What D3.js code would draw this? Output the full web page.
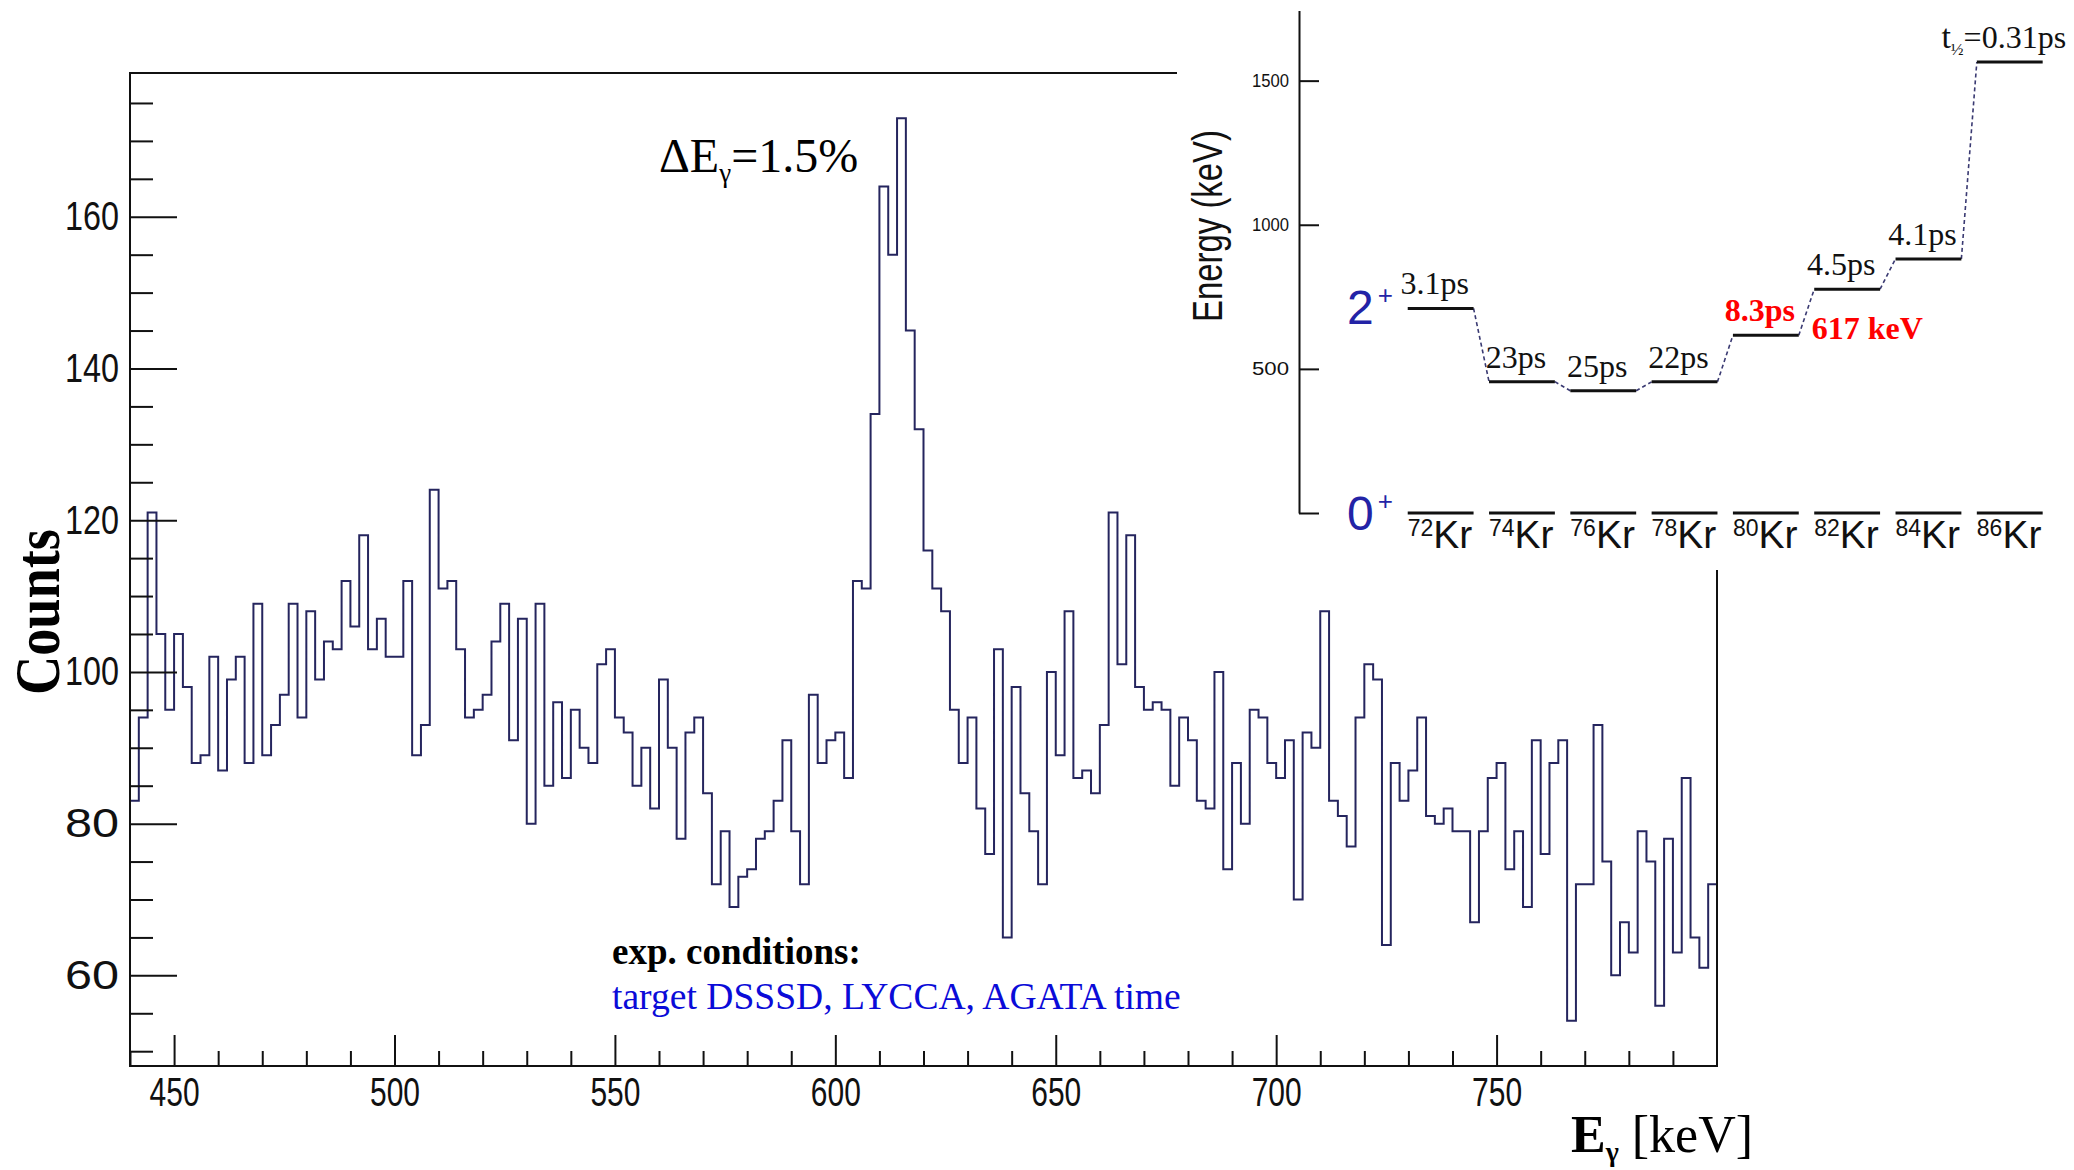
<!DOCTYPE html>
<html>
<head>
<meta charset="utf-8">
<script src="https://cdnjs.cloudflare.com/ajax/libs/d3/7.8.5/d3.min.js"></script>
<style>
  html, body { margin: 0; padding: 0; background: #fff; }
  svg { display: block; }
</style>
</head>
<body>
<script>
// gamma spectrum: counts per 2 keV bin, first bin starts at 440 keV
var binLow = 440;
var binWidth = 2;
var counts = [
   83,  94, 121, 105,  95, 105,  98,  88,  89, 102,
   87,  99, 102,  88, 109,  89,  93,  97, 109,  94,
  108,  99, 104, 103, 112, 106, 118, 103, 107, 102,
  102, 112,  89,  93, 124, 111, 112, 103,  94,  95,
   97, 104, 109,  91, 107,  80, 109,  85,  96,  86,
   95,  90,  88, 101, 103,  94,  92,  85,  90,  82,
   99,  90,  78,  92,  94,  84,  72,  79,  69,  73,
   74,  78,  79,  83,  91,  79,  72,  97,  88,  91,
   92,  86, 112, 111, 134, 164, 155, 173, 145, 132,
  116, 111, 108,  95,  88,  94,  82,  76, 103,  65,
   98,  84,  79,  72, 100,  89, 108,  86,  87,  84,
   93, 121, 101, 118,  98,  95,  96,  95,  85,  94,
   91,  83,  82, 100,  74,  88,  80,  95,  94,  88,
   86,  91,  70,  92,  90, 108,  83,  81,  77,  94,
  101,  99,  64,  88,  83,  87,  94,  81,  80,  82,
   79,  79,  67,  79,  86,  88,  74,  79,  69,  91,
   76,  88,  91,  54,  72,  72,  93,  75,  60,  67,
   63,  79,  75,  56,  78,  63,  86,  65,  61,  72
];
var xTicks = [450, 500, 550, 600, 650, 700, 750];
var yTicks = [60, 80, 100, 120, 140, 160];

// inset: first 2+ state of the even Kr isotopes
var isotopes = ['72', '74', '76', '78', '80', '82', '84', '86'];
var levelEnergy = [709.7, 455.6, 424.0, 455.0, 616.6, 776.5, 881.6, 1564.6];
var halfLife = ['3.1ps', '23ps', '25ps', '22ps', '8.3ps', '4.5ps', '4.1ps', '0.31ps'];
var energyTicks = [0, 500, 1000, 1500];
var highlight = '80';

var SERIF = "'Liberation Serif', 'Times New Roman', serif";
var SANS = "'Liberation Sans', Arial, Helvetica, sans-serif";
var histColor = '#25255e';

var svg = d3.select('body').append('svg').attr('width', 2074).attr('height', 1170);
svg.append('rect').attr('width', 2074).attr('height', 1170).attr('fill', '#fff');

/** main spectrum */
var frame = {left: 130, right: 1717, top: 73, bottom: 1066};
var x = d3.scaleLinear().domain([440, 800]).range([frame.left, frame.right]);
var y = d3.scaleLinear().domain([48.05, 178.95]).range([frame.bottom, frame.top]);

// step outline, one point per bin low edge plus the closing edge
var steps = counts.map(function (c, i) { return {e: binLow + i * binWidth, c: c}; });
steps.push({e: binLow + counts.length * binWidth, c: counts[counts.length - 1]});
var stepLine = d3.line().x(function (d) { return x(d.e); }).y(function (d) { return y(d.c); }).curve(d3.curveStepAfter);
svg.append('path').attr('d', stepLine(steps))
   .attr('fill', 'none').attr('stroke', histColor).attr('stroke-width', 2);

// ROOT style ticks: inside the frame, minor ones shorter
var xMinor = d3.range(440, 800, 10).filter(function (v) { return v % 50 !== 0; });
var yMinor = d3.range(50, 179, 5).filter(function (v) { return yTicks.indexOf(v) < 0; });

var gx = svg.append('g').attr('transform', 'translate(0,' + frame.bottom + ')');
gx.append('g').call(d3.axisBottom(x).tickValues(xMinor).tickSizeInner(-15).tickSizeOuter(0).tickFormat(''));
gx.append('g').call(d3.axisBottom(x).tickValues(xTicks).tickSizeInner(-31).tickSizeOuter(0).tickPadding(12));
var gy = svg.append('g').attr('transform', 'translate(' + frame.left + ',0)');
gy.append('g').call(d3.axisLeft(y).tickValues(yMinor).tickSizeInner(-23).tickSizeOuter(0).tickFormat(''));
gy.append('g').call(d3.axisLeft(y).tickValues(yTicks).tickSizeInner(-47).tickSizeOuter(0).tickPadding(11));
svg.selectAll('.domain').remove();
svg.selectAll('.tick line').attr('stroke', '#111').attr('stroke-width', 2);
gx.selectAll('text').attr('font-family', SANS).attr('font-size', 40).attr('fill', '#111')
  .attr('textLength', 50).attr('lengthAdjust', 'spacingAndGlyphs');
gy.selectAll('text').attr('font-family', SANS).attr('font-size', 40).attr('fill', '#111')
  .attr('textLength', 54).attr('lengthAdjust', 'spacingAndGlyphs');

svg.append('rect').attr('x', frame.left).attr('y', frame.top)
   .attr('width', frame.right - frame.left).attr('height', frame.bottom - frame.top)
   .attr('fill', 'none').attr('stroke', '#111').attr('stroke-width', 2);

// axis titles
svg.append('text').attr('transform', 'translate(59,612) rotate(-90)')
   .attr('text-anchor', 'middle').attr('font-family', SERIF).attr('font-weight', 'bold')
   .attr('font-size', 63).attr('textLength', 166).attr('lengthAdjust', 'spacingAndGlyphs').text('Counts');
var xt = svg.append('text').attr('x', 1571).attr('y', 1152).attr('font-family', SERIF).attr('font-size', 52);
xt.append('tspan').attr('font-weight', 'bold').text('E');
xt.append('tspan').attr('font-weight', 'bold').attr('font-size', 28).attr('dy', 9).text('γ');
xt.append('tspan').attr('dy', -9).text(' [keV]');

// resolution label
var res = svg.append('text').attr('x', 659).attr('y', 172).attr('font-family', SERIF).attr('font-size', 48);
res.append('tspan').text('ΔE');
res.append('tspan').attr('font-size', 27).attr('dy', 10).text('γ');
res.append('tspan').attr('dy', -10).text('=1.5%');

// gating conditions
svg.append('text').attr('x', 612).attr('y', 964).attr('font-family', SERIF).attr('font-weight', 'bold')
   .attr('font-size', 37).text('exp. conditions:');
svg.append('text').attr('x', 612).attr('y', 1009).attr('font-family', SERIF)
   .attr('font-size', 37.6).attr('fill', '#0b0bd8').text('target DSSSD, LYCCA, AGATA time');

/** inset level scheme, drawn on a white patch over the top right corner */
svg.append('rect').attr('x', 1177).attr('y', 0).attr('width', 897).attr('height', 570).attr('fill', '#fff');

var eY = d3.scaleLinear().domain([0, 1743]).range([513, 10.6]);
var isoX = d3.scaleBand().domain(isotopes).range([1400, 2050.4]).paddingInner(0.19).paddingOuter(0.095);

var gE = svg.append('g').attr('transform', 'translate(1299,0)')
  .call(d3.axisLeft(eY).tickValues(energyTicks).tickSizeInner(-20).tickSizeOuter(0).tickPadding(10)
    .tickFormat(function (d) { return d ? d : ''; }));
gE.select('.domain').attr('stroke', '#111').attr('stroke-width', 2);
gE.selectAll('.tick line').attr('stroke', '#111').attr('stroke-width', 2);
gE.selectAll('text').attr('font-family', SANS).attr('font-size', 19).attr('fill', '#111')
  .attr('textLength', 37).attr('lengthAdjust', 'spacingAndGlyphs');

svg.append('text').attr('transform', 'translate(1222,226) rotate(-90)')
   .attr('text-anchor', 'middle').attr('font-family', SANS).attr('font-size', 43)
   .attr('textLength', 192).attr('lengthAdjust', 'spacingAndGlyphs').attr('fill', '#111').text('Energy (keV)');

// spin labels
function spinLabel(digit, yb) {
  var t = svg.append('text').attr('x', 1347).attr('y', yb).attr('font-family', SANS)
    .attr('font-size', 48).attr('fill', '#2323a6');
  t.append('tspan').text(digit);
  t.append('tspan').attr('font-size', 26).attr('dx', 4).attr('dy', -20).text('+');
}
spinLabel('2', 324);
spinLabel('0', 530);

var levels = isotopes.map(function (iso, i) {
  return {iso: iso, e: levelEnergy[i], t: halfLife[i]};
});

// dashed links between neighbouring 2+ levels
svg.append('g').selectAll('line').data(levels.slice(1)).join('line')
   .attr('x1', function (d, i) { return isoX(levels[i].iso) + isoX.bandwidth(); })
   .attr('y1', function (d, i) { return eY(levels[i].e); })
   .attr('x2', function (d) { return isoX(d.iso); })
   .attr('y2', function (d) { return eY(d.e); })
   .attr('stroke', '#3a3a72').attr('stroke-width', 1.6).attr('stroke-dasharray', '4,3');

// 2+ and 0+ levels
svg.append('g').selectAll('line').data(levels).join('line')
   .attr('x1', function (d) { return isoX(d.iso); })
   .attr('x2', function (d) { return isoX(d.iso) + isoX.bandwidth(); })
   .attr('y1', function (d) { return eY(d.e); }).attr('y2', function (d) { return eY(d.e); })
   .attr('stroke', '#111').attr('stroke-width', 3);
svg.append('g').selectAll('line').data(levels).join('line')
   .attr('x1', function (d) { return isoX(d.iso); })
   .attr('x2', function (d) { return isoX(d.iso) + isoX.bandwidth(); })
   .attr('y1', eY(0)).attr('y2', eY(0))
   .attr('stroke', '#111').attr('stroke-width', 3);

// isotope names under the ground states
var names = svg.append('g').selectAll('text').data(levels).join('text')
   .attr('x', function (d) { return isoX(d.iso); }).attr('y', 548)
   .attr('font-family', SANS).attr('fill', '#111');
names.append('tspan').attr('font-size', 23).attr('dy', -12).text(function (d) { return d.iso; });
names.append('tspan').attr('font-size', 39).attr('dy', 12).text('Kr');

// half-lives above each 2+ level
var hl = svg.append('g').selectAll('text').data(levels).join('text')
   .attr('x', function (d) { return isoX(d.iso) + isoX.bandwidth() / 2 - 6; })
   .attr('y', function (d) { return eY(d.e) - 14; })
   .attr('text-anchor', 'middle').attr('font-family', SERIF).attr('font-size', 32)
   .attr('fill', function (d) { return d.iso === highlight ? '#ff0000' : '#111'; })
   .attr('font-weight', function (d) { return d.iso === highlight ? 'bold' : 'normal'; });
hl.filter(function (d, i) { return i === levels.length - 1; }).each(function () {
  var t = d3.select(this);
  t.append('tspan').attr('font-size', 34).text('t');
  t.append('tspan').attr('font-size', 17).attr('dy', 7).text('½');
  t.append('tspan').attr('dy', -7).text('=');
});
hl.append('tspan').text(function (d) { return d.t; });

// energy of the highlighted 2+ state
var hi = levels[isotopes.indexOf(highlight)];
svg.append('text').attr('x', isoX(hi.iso) + isoX.bandwidth() + 13).attr('y', eY(hi.e) + 4)
   .attr('font-family', SERIF).attr('font-weight', 'bold').attr('font-size', 32).attr('fill', '#ff0000')
   .text(Math.round(hi.e) + ' keV');
</script>
</body>
</html>
